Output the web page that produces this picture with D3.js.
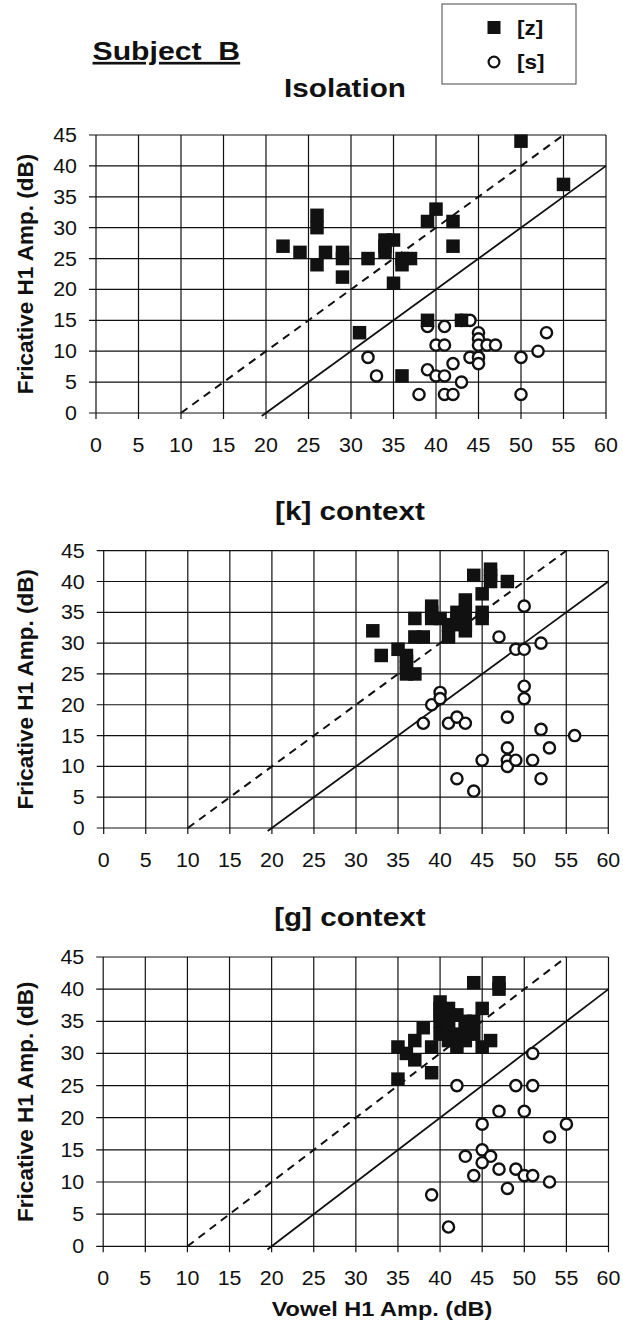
<!DOCTYPE html>
<html>
<head>
<meta charset="utf-8">
<script src="https://cdn.jsdelivr.net/npm/d3@7"></script>
<style>
  html, body { margin: 0; padding: 0; background: #fff; }
  svg { display: block; font-family: "Liberation Sans", Arial, sans-serif; }
</style>
</head>
<body>
<svg id="chart" width="623" height="1326"></svg>
<script>
// ---------------- DATA ----------------
const xTicks = [0, 5, 10, 15, 20, 25, 30, 35, 40, 45, 50, 55, 60];
const yTicks = [0, 5, 10, 15, 20, 25, 30, 35, 40, 45];
const panelTitles = ["Isolation", "[k] context", "[g] context"];
const legendLabels = ["[z]", "[s]"];
const xAxisTitle = "Vowel H1 Amp. (dB)";
const yAxisTitle = "Fricative H1 Amp. (dB)";
const subjectTitle = "Subject\u00A0\u00A0B";

// reference lines (data units): dashed y = x - 10, solid y = x - 20
const dashedLine = [[10, 0], [55, 45]];
const solidLine = [[19.5, -0.5], [60, 40]];

// [x = vowel H1 amp, y = fricative H1 amp]
const isolationZ = [[22,27],[24,26],[26,32],[26,30],[26,24],[27,26],[29,26],[29,25],[29,22],
  [32,25],[34,28],[35,28],[34,26],[34,27],[35,21],[36,25],[37,25],[36,24],[31,13],[36,6],
  [39,31],[39,15],[40,33],[42,31],[42,27],[43,15],[50,44],[55,37]];
const isolationS = [[32,9],[33,6],[38,3],[39,7],[39,14],[40,11],[40,6],[41,14],[41,11],[41,6],
  [41,3],[42,8],[42,3],[43,15],[43,5],[44,15],[44,9],[45,13],[45,12],[45,11],[45,9],[45,8],
  [46,11],[47,11],[50,9],[50,3],[52,10],[53,13]];

const kContextZ = [[32,32],[33,28],[35,29],[36,28],[36,27],[36,26],[36,25],[37,25],[37,34],[37,31],
  [38,31],[39,36],[39,35],[39,34],[40,34],[41,31],[41,33],[42,35],[42,34],[42,33],[43,37],[43,35],
  [43,33],[43,32],[44,41],[45,38],[45,35],[45,34],[46,42],[46,41],[46,40],[48,40]];
const kContextS = [[38,17],[39,20],[40,22],[40,21],[41,17],[42,18],[43,17],[42,8],[44,6],[45,11],
  [47,31],[49,29],[50,29],[50,36],[52,30],[50,23],[50,21],[48,18],[48,13],[48,11],[48,10],[49,11],
  [51,11],[52,16],[53,13],[52,8],[56,15]];

const gContextZ = [[35,31],[35,26],[36,30],[37,32],[37,29],[38,34],[39,31],[39,27],[40,38],[40,37],
  [40,36],[40,35],[40,33],[41,37],[41,35],[41,32],[41,34],[42,36],[42,33],[42,31],[43,35],[43,32],
  [43,34],[44,35],[44,33],[44,41],[45,37],[45,31],[46,32],[47,41],[47,40]];
const gContextS = [[42,25],[49,25],[51,25],[51,30],[47,21],[50,21],[55,19],[45,19],[53,17],[45,15],
  [46,14],[43,14],[45,13],[47,12],[49,12],[50,11],[51,11],[53,10],[44,11],[48,9],[39,8],[41,3]];

// ---------------- LAYOUT ----------------
const layout = [
  { x0: 96,    x1: 606,   yTop: 135,   yBot: 413,    titleY: 97 },
  { x0: 103.7, x1: 608.3, yTop: 550.7, yBot: 828,    titleY: 520 },
  { x0: 103.2, x1: 608.5, yTop: 957,   yBot: 1246.3, titleY: 926 }
];
const panelData = [
  { z: isolationZ, s: isolationS },
  { z: kContextZ,  s: kContextS },
  { z: gContextZ,  s: gContextS }
];

const svg = d3.select("#chart");
const ink = "#111";

// text helper with slight horizontal widening (scan looks stretched)
function label(parent, cx, by, str, size, weight, anchor, sx) {
  return parent.append("text")
    .attr("transform", `translate(${cx},${by}) scale(${sx},1)`)
    .attr("text-anchor", anchor).attr("font-size", size)
    .attr("font-weight", weight).attr("fill", ink).text(str);
}

layout.forEach((L, i) => {
  const x = d3.scaleLinear().domain([0, 60]).range([L.x0, L.x1]);
  const y = d3.scaleLinear().domain([0, 45]).range([L.yBot, L.yTop]);
  const g = svg.append("g");

  // grid (lines extend past the axes as tick marks)
  g.append("g").selectAll("line").data(xTicks).join("line")
    .attr("x1", d => x(d)).attr("x2", d => x(d))
    .attr("y1", y(45)).attr("y2", y(0) + 6)
    .attr("stroke", ink).attr("stroke-width", 1.2);
  g.append("g").selectAll("line").data(yTicks).join("line")
    .attr("x1", x(0) - 7).attr("x2", x(60))
    .attr("y1", d => y(d)).attr("y2", d => y(d))
    .attr("stroke", ink).attr("stroke-width", 1.2);

  // tick labels
  const xl = g.append("g");
  xTicks.forEach(t => label(xl, x(t), y(0) + 39, t, 20, "normal", "middle", 1.07));
  const yl = g.append("g");
  yTicks.forEach(t => label(yl, x(0) - 19, y(t) + 7, t, 20, "normal", "end", 1.07));

  // reference lines
  const line = d3.line().x(d => x(d[0])).y(d => y(d[1]));
  g.append("path").datum(dashedLine).attr("d", line)
    .attr("fill", "none").attr("stroke", ink).attr("stroke-width", 2)
    .attr("stroke-dasharray", "8,6");
  g.append("path").datum(solidLine).attr("d", line)
    .attr("fill", "none").attr("stroke", ink).attr("stroke-width", 1.8);

  // [s] circles
  g.append("g").selectAll("circle").data(panelData[i].s).join("circle")
    .attr("cx", d => x(d[0])).attr("cy", d => y(d[1])).attr("r", 5.6)
    .attr("fill", "#fff").attr("stroke", ink).attr("stroke-width", 2.4);
  // [z] squares
  const sq = 13.5;
  g.append("g").selectAll("rect").data(panelData[i].z).join("rect")
    .attr("x", d => x(d[0]) - sq / 2).attr("y", d => y(d[1]) - sq / 2)
    .attr("width", sq).attr("height", sq).attr("fill", ink);

  // panel title
  label(g, (L.x0 + L.x1) / 2 - 6, L.titleY, panelTitles[i], 26, "bold", "middle", 1.14);

  // y axis title
  g.append("text")
    .attr("transform", `translate(33,${(L.yTop + L.yBot) / 2}) rotate(-90)`)
    .attr("text-anchor", "middle").attr("font-size", 22.5).attr("font-weight", "bold")
    .attr("fill", ink).text(yAxisTitle);

  if (i === 2) {
    label(g, x(20), L.yBot + 70, xAxisTitle, 21, "bold", "start", 1.12);
  }
});

// Subject title
svg.append("text")
  .attr("transform", "translate(92.5,60) scale(1.14,1)")
  .attr("font-size", 26.5).attr("font-weight", "bold").attr("fill", ink)
  .attr("text-decoration", "underline").text(subjectTitle);

// Legend
const lg = svg.append("g");
lg.append("rect").attr("x", 442).attr("y", 4).attr("width", 134).attr("height", 80)
  .attr("fill", "#fff").attr("stroke", "#444").attr("stroke-width", 1);
lg.append("rect").attr("x", 487.5).attr("y", 21).attr("width", 13).attr("height", 13).attr("fill", ink);
lg.append("circle").attr("cx", 494).attr("cy", 62).attr("r", 5.4).attr("fill", "#fff")
  .attr("stroke", ink).attr("stroke-width", 2.2);
legendLabels.forEach((d, i) => label(lg, 517, 35 + i * 34, d, 20, "bold", "start", 1.13));
</script>
</body>
</html>
